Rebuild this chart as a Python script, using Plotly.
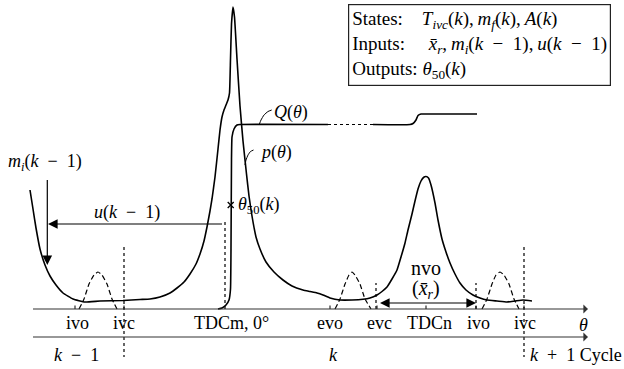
import plotly.graph_objects as go

FONT = "Liberation Serif"

# ---- data (theta position, pressure-like height) ----
p_theta = [30, 33, 36, 40, 45, 50, 56, 63, 73, 85, 100, 123, 140, 150, 160, 170, 177, 184, 190, 196,
           200, 204, 207, 210, 212, 215, 218, 220, 222, 224, 226, 228, 229.5, 230.5, 231.5, 233,
           234.5, 237, 240, 243, 246.5, 249, 252, 256, 260, 266, 274, 283, 292, 303, 310, 317, 323,
           330, 340, 352, 363, 370, 377, 382, 387, 392, 397, 401, 405, 408, 412, 415, 418, 421,
           423.5, 426, 428.5, 431, 435, 438, 442, 446, 450, 455, 460, 466, 473, 480, 487, 497, 507,
           515, 523, 532]
p_val = [119, 100, 81, 60, 44, 33, 24, 16, 10, 7, 8, 8.5, 9.5, 10, 12, 16, 21, 27, 35, 45,
         55, 68, 82, 98, 110, 132, 160, 179, 192, 199, 204, 209, 216, 250, 285, 302,
         292, 250, 203, 168, 135, 113, 93, 72, 60, 47, 37, 29, 23, 19, 17.5, 16, 14,
         11, 9, 9, 9.7, 11, 14, 17.5, 22, 30, 39, 52, 66, 79, 95, 108, 120, 128,
         131.5, 132.5, 131, 124, 106, 89, 70, 57, 46, 35, 26, 19, 14, 11, 9, 8, 7,
         8, 9, 8]

q_theta = [218, 222, 226, 229, 230.5, 231, 231.5, 232, 234, 237, 240, 328]
q_val = [0, 1, 4, 9, 20, 60, 150, 172, 180, 184, 184.5, 184.5]
q_dot_theta = [328, 373]
q_dot_val = [184.5, 184.5]
q2_theta = [373, 410, 413, 416, 418, 421, 425, 477]
q2_val = [184.5, 184.5, 185.5, 189, 193.5, 195, 195, 195]

valve_iv1_theta = [79, 84, 89, 94, 98, 102, 107, 112, 117]
valve_ev_theta = [335, 340, 345, 349, 352, 355, 360, 365, 371]
valve_iv2_theta = [482, 487, 492, 496, 500, 504, 509, 514, 519]
valve_lift = [0, 10, 25, 34, 37, 34, 25, 10, 0]

tick_theta = [77, 124, 231.5, 330, 379, 429.5, 478, 525]
tick_text = ["ivo", "ivc", "TDCm, 0°", "evo", "evc", "TDCn", "ivo", "ivc"]
tick_marks = [75, 124, 330, 377, 426, 476, 524]

M = "\u2002−\u2002"   # math-style spacing around minus
cycle_pos = [76, 333]
cycle_text = ["<i>k</i>" + M + "1", "<i>k</i>"]

theta50 = [230.7, 104]

fig = go.Figure()
blk = "black"

def line(x, y, dash="solid", w=1.6, color=blk, shape="linear"):
    fig.add_trace(go.Scatter(x=x, y=y, mode="lines", hoverinfo="skip",
                             line=dict(color=color, width=w, dash=dash, shape=shape,
                                       smoothing=0.4)))

# pressure curve
line(p_theta, p_val, shape="spline")
# heat release
line(q_theta, q_val, shape="spline")
line(q_dot_theta, q_dot_val, dash="dot", w=1.2)
line(q2_theta, q2_val, shape="spline")
# valve lifts
for vx in (valve_iv1_theta, valve_ev_theta, valve_iv2_theta):
    line(vx, valve_lift, dash="5px,3px", w=1.2, shape="spline")

# leaders
line([259.3, 261, 264, 268, 271.7], [184.7, 189, 194, 197.5, 199], w=1, shape="spline")
line([245, 246, 248, 250.5, 253.5], [144, 149, 154, 157.5, 159], w=1, shape="spline")

# dotted verticals
for xv, y0, y1 in [(124, 62, -48), (524, 62, -48), (376, 0, 26), (476, 0, 26), (225, 0, 87)]:
    line([xv, xv], [y0, y1], dash="dot", w=1.2)

# small tick marks on theta axis
tx, ty = [], []
for t in tick_marks:
    tx += [t, t, None]
    ty += [0, 3.5, None]
line(tx, ty, w=1)

# theta50 marker
fig.add_trace(go.Scatter(x=[theta50[0]], y=[theta50[1]], mode="markers", hoverinfo="skip",
                         marker=dict(symbol="x-thin", size=6, line=dict(width=1.3, color=blk))))

ann = []
def arrow(x, y, ax, ay, head=2, size=1.6, w=1.2, color=blk, side="end"):
    ann.append(dict(x=x, y=y, ax=ax, ay=ay, xref="x", yref="y", axref="x", ayref="y",
                    showarrow=True, arrowhead=head, startarrowhead=head, arrowside=side,
                    arrowsize=size, arrowwidth=w, arrowcolor=color, text=" ",
                    font=dict(family=FONT, size=10)))

# axes
arrow(588, 0, 30, 0, head=1, size=1.4, w=1.1, color="#333")
arrow(588, -28, 30, -28, head=1, size=1.4, w=1.1, color="#333")
# u(k-1), m_i(k-1), nvo arrows
arrow(48, 85, 225, 85)
arrow(47.3, 44, 47.3, 136)
arrow(476, 6, 377, 6, side="end+start")

def txt(x, y, s, size=18, xanchor="center", yanchor="middle"):
    ann.append(dict(x=x, y=y, xref="x", yref="y", text=s, showarrow=False,
                    xanchor=xanchor, yanchor=yanchor,
                    font=dict(family=FONT, size=size, color=blk)))

for t, s in zip(tick_theta, tick_text):
    txt(t, -14, s)
txt(583, -16, "<i>θ</i>")
for t, s in zip(cycle_pos, cycle_text):
    txt(t, -46, s)
txt(528, -46, "<i>k</i>\u2002+\u20021 Cycle", xanchor="left")

txt(45, 147, "<i>m</i><sub><i>i</i></sub>(<i>k</i>" + M + "1)")
txt(127, 97, "<i>u</i>(<i>k</i>" + M + "1)")
txt(236, 104, "<i>θ</i><sub>50</sub>(<i>k</i>)", xanchor="left")
txt(272, 197, "<i>Q</i>(<i>θ</i>)", xanchor="left")
txt(258, 157, "<i>p</i>(<i>θ</i>)", xanchor="left")
txt(426, 41, "nvo", size=20)
txt(426, 20, "(<i>x̄</i><sub><i>r</i></sub>)", size=20)

C = ",\u2009"
box = ("States:\u2003<i>T</i><sub><i>ivc</i></sub>(<i>k</i>)" + C + "<i>m</i><sub><i>f</i></sub>(<i>k</i>)" + C + "<i>A</i>(<i>k</i>)<br>"
       "Inputs:\u2003 <i>x̄</i><sub><i>r</i></sub>" + C + "<i>m</i><sub><i>i</i></sub>(<i>k</i>" + M + "1)" + C + "<i>u</i>(<i>k</i>" + M + "1)<br>"
       "Outputs: <i>θ</i><sub>50</sub>(<i>k</i>)")
ann.append(dict(x=348, y=305, xref="x", yref="y", xanchor="left", yanchor="top",
                text=box, showarrow=False, align="left", bordercolor="#222", borderwidth=1.2,
                borderpad=3, bgcolor="white", font=dict(family=FONT, size=19, color=blk)))

fig.update_layout(
    width=624, height=369, margin=dict(l=0, r=0, t=0, b=0),
    paper_bgcolor="white", plot_bgcolor="white", showlegend=False,
    xaxis=dict(range=[0, 624], visible=False, fixedrange=True),
    yaxis=dict(range=[-60, 309], visible=False, fixedrange=True),
    annotations=ann,
)
fig.write_html("out.html", config={"displayModeBar": False},
               post_script="document.body.style.margin='0';document.body.style.padding='0';")
